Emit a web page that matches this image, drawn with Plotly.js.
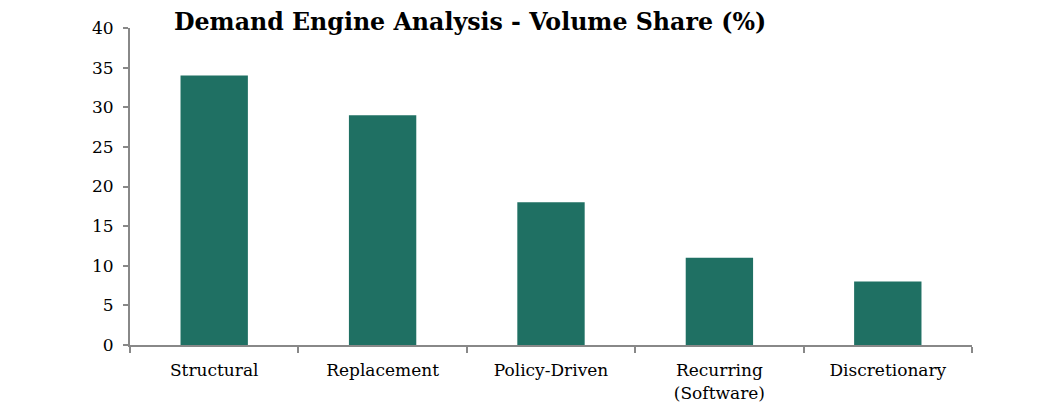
<!DOCTYPE html>
<html><head><meta charset="utf-8">
<script src="https://cdn.plot.ly/plotly-3.0.1.min.js"></script>
<style>body{margin:0;background:#fff}#c{width:1050px;height:412px}</style>
</head><body><div id="c"></div>
<script>
const categories = ["Structural", "Replacement", "Policy-Driven", "Recurring<br>(Software)", "Discretionary"];
const volumeShare = [34, 29, 18, 11, 8];
const yTicks = [0, 5, 10, 15, 20, 25, 30, 35, 40];
const FONT = "DejaVu Serif, serif";
Plotly.newPlot("c", [{
  type: "bar", x: categories, y: volumeShare,
  marker: {color: "#1F7063"}, hoverinfo: "skip"
}], {
  width: 1050, height: 412,
  margin: {l: 130, r: 78, t: 28, b: 67},
  bargap: 0.6,
  paper_bgcolor: "#fff", plot_bgcolor: "#fff",
  font: {family: FONT, color: "#000", size: 17},
  title: {text: "<b>Demand Engine Analysis - Volume Share (%)</b>", font: {family: FONT, size: 23.7, color: "#000"},
          xref: "container", x: 174/1050, xanchor: "left", yref: "container", y: 1 - 22/412, yanchor: "middle"},
  xaxis: {showline: true, linecolor: "#888", linewidth: 2, ticks: "outside", tickson: "boundaries",
          ticklen: 6, tickwidth: 2, tickcolor: "#888", showgrid: false, tickfont: {size: 17},
          ticklabelstandoff: 9},
  yaxis: {range: [0, 40], tickvals: yTicks, showline: true, linecolor: "#888", linewidth: 2,
          ticks: "outside", ticklen: 5, tickwidth: 2, tickcolor: "#888", showgrid: false, zeroline: false,
          tickfont: {size: 17}, ticklabelstandoff: 6}
}, {displayModeBar: false, staticPlot: true});
</script></body></html>
